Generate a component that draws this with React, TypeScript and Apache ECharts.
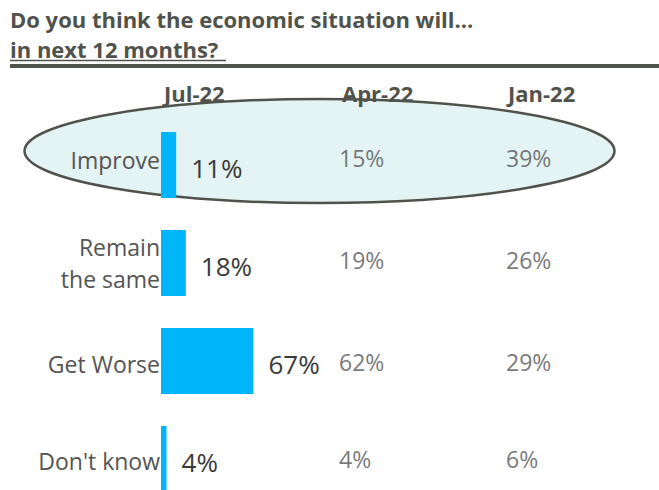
import React, { useEffect, useRef } from "react";
import * as echarts from "echarts";

// ---- data ----
const categories = ["Improve", "Remain\nthe same", "Get Worse", "Don't know"];
const jul22 = [11, 18, 67, 4];
const apr22 = [15, 19, 62, 4];
const jan22 = [39, 26, 29, 6];
const columnHeaders = ["Jul-22", "Apr-22", "Jan-22"];
const titleLines = ["Do you think the economic situation will...", "in next 12 months?"];

// ---- layout / style ----
const W = 659;
const H = 490;
const CANVAS_H = 520; // the last row is cut by the 490px frame
const FONT = "Open Sans";
const DARK = "#50524c";
const GREY = "#545454";
const BAR = "#00b5fa";
const headerX = [164, 342, 508];
const titleY = [19, 48.5];
const aprX = 339;
const janX = 506;
const rowLabelShift = [-5, 0, 3, 2];
const rowValueShift = [-7, -3, 1, 0];

export default function App() {
  const ref = useRef<HTMLDivElement>(null);

  useEffect(() => {
    if (!ref.current) return;
    const chart = echarts.init(ref.current, undefined, { renderer: "svg" });

    const rich: Record<string, any> = {};
    rowLabelShift.forEach((s, i) => {
      rich["r" + i] = {
        fontSize: 23,
        fontFamily: FONT,
        color: GREY,
        lineHeight: 32,
        padding: s < 0 ? [0, 0, -2 * s, 0] : [2 * s, 0, 0, 0],
      };
    });

    const tableSeries = (vals: number[], x: number) => ({
      type: "scatter",
      xAxisIndex: 1,
      yAxisIndex: 1,
      symbolSize: 0,
      silent: true,
      data: vals.map((v, i) => ({
        value: [x, categories[i], v],
        label: { offset: [0, rowValueShift[i]] },
      })),
      label: {
        show: true,
        position: "right",
        distance: 0,
        fontFamily: FONT,
        fontSize: 23,
        color: GREY,
        formatter: (p: any) => p.value[2] + "%",
      },
    });

    const option: any = {
      animation: false,
      grid: [
        { left: 161, top: 116, width: 138, height: 392 },
        { left: 0, top: 116, width: W, height: 392 },
      ],
      xAxis: [
        { type: "value", gridIndex: 0, min: 0, max: 100, show: false },
        { type: "value", gridIndex: 1, min: 0, max: W, show: false },
      ],
      yAxis: [
        {
          type: "category",
          gridIndex: 0,
          data: categories,
          inverse: true,
          axisLine: { show: false },
          axisTick: { show: false },
          splitLine: { show: false },
          axisLabel: {
            margin: 1,
            formatter: (v: string, i: number) =>
              v
                .split("\n")
                .map((l) => `{r${i}|${l}}`)
                .join("\n"),
            rich,
          },
        },
        { type: "category", gridIndex: 1, data: categories, inverse: true, show: false },
      ],
      graphic: [
        {
          type: "ellipse",
          z: 0,
          shape: { cx: 319.5, cy: 151, rx: 295, ry: 52 },
          style: { fill: "#e4f3f3", stroke: DARK, lineWidth: 2.5 },
        },
        ...titleLines.map((t, i) => ({
          type: "text",
          z: 5,
          style: {
            text: t,
            x: 10,
            y: titleY[i],
            verticalAlign: "middle",
            font: `bold 22px "${FONT}"`,
            fill: DARK,
          },
        })),
        {
          type: "line",
          z: 5,
          shape: { x1: 10, y1: 60.5, x2: 226, y2: 60.5 },
          style: { stroke: DARK, lineWidth: 1.5 },
        },
        {
          type: "rect",
          z: 5,
          shape: { x: 10, y: 64, width: W - 10, height: 4 },
          style: { fill: DARK },
        },
        ...columnHeaders.map((h, i) => ({
          type: "text",
          z: 5,
          style: {
            text: h,
            x: headerX[i],
            y: 93,
            verticalAlign: "middle",
            font: `bold 22px "${FONT}"`,
            fill: DARK,
          },
        })),
      ],
      series: [
        {
          type: "bar",
          xAxisIndex: 0,
          yAxisIndex: 0,
          data: jul22,
          barWidth: 66,
          itemStyle: { color: BAR },
          label: {
            show: true,
            position: "right",
            distance: 15,
            offset: [0, 3],
            fontFamily: FONT,
            fontSize: 26,
            color: "#3a3a3a",
            formatter: (p: any) => p.value + "%",
          },
        },
        tableSeries(apr22, aprX),
        tableSeries(jan22, janX),
      ],
    };

    chart.setOption(option);
    return () => chart.dispose();
  }, []);

  return (
    <div
      style={{
        position: "fixed",
        left: 0,
        top: 0,
        width: W,
        height: H,
        overflow: "hidden",
        background: "#fff",
      }}
    >
      <div ref={ref} style={{ width: W, height: CANVAS_H }} />
    </div>
  );
}
